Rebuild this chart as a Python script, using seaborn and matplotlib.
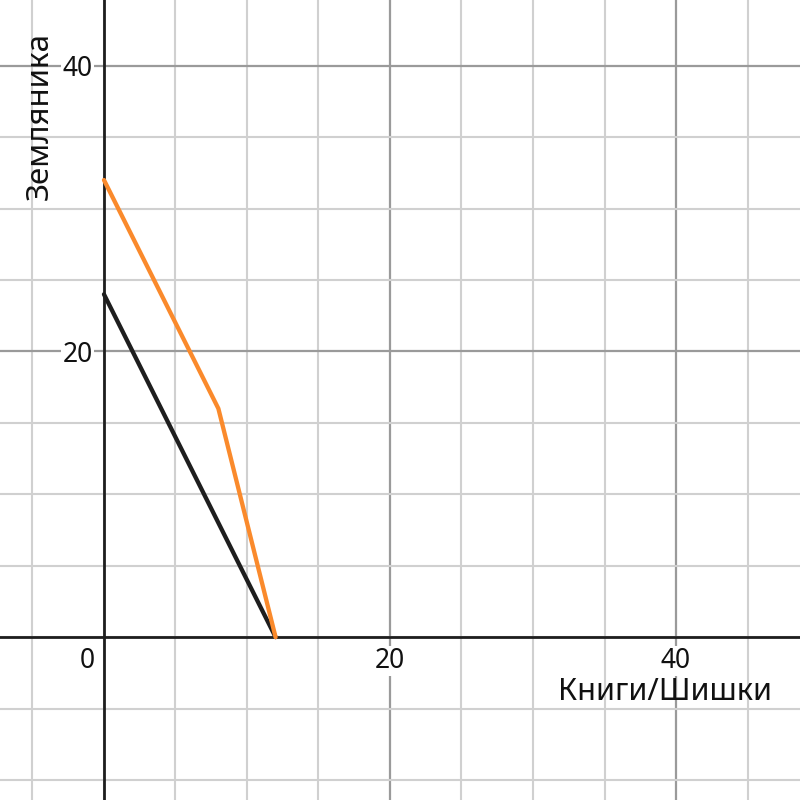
import numpy as np
import pandas as pd
import matplotlib.pyplot as plt
import seaborn as sns
from matplotlib.ticker import MultipleLocator

sns.set_style('white')
plt.rcParams['font.family'] = ['Noto Sans', 'DejaVu Sans']
plt.rcParams['text.color'] = '#111111'

# data
black_x = [0, 12]
black_y = [24, 0]
orange_x = [0, 8, 12]
orange_y = [32, 16, 0]
x_ticks = [20, 40]
y_ticks = [20, 40]

fig = plt.figure(figsize=(8, 8), dpi=100)
ax = fig.add_axes([0, 0, 1, 1])

sns.lineplot(x=black_x, y=black_y, sort=False, color='#1e1e1e', lw=3.1, ax=ax)
sns.lineplot(x=orange_x, y=orange_y, sort=False, color='#fa8a2c', lw=3.1, ax=ax)

ax.set_xlim(-7.27, 48.67)
ax.set_ylim(-11.4, 44.6)

# grid
ax.xaxis.set_major_locator(MultipleLocator(20))
ax.yaxis.set_major_locator(MultipleLocator(20))
ax.xaxis.set_minor_locator(MultipleLocator(5))
ax.yaxis.set_minor_locator(MultipleLocator(5))
ax.grid(which='major', color='#9a9a9a', lw=1.6)
ax.grid(which='minor', color='#d0d0d0', lw=1.5)
ax.set_axisbelow(True)

# axes through origin
for side in ['top', 'right']:
    ax.spines[side].set_visible(False)
ax.spines['left'].set_position(('data', 0))
ax.spines['bottom'].set_position(('data', 0))
ax.spines['left'].set_color('#1e1e1e')
ax.spines['bottom'].set_color('#1e1e1e')
ax.spines['left'].set_linewidth(2)
ax.spines['bottom'].set_linewidth(2)
ax.spines['left'].set_zorder(1.5)
ax.spines['bottom'].set_zorder(1.5)

ax.set_xticks(x_ticks)
ax.set_yticks(y_ticks)
ax.tick_params(which='both', length=0, labelcolor='#111111')
ax.tick_params(axis='x', pad=7, labelsize=19)
ax.tick_params(axis='y', pad=8, labelsize=19)
for lab in ax.get_xticklabels() + ax.get_yticklabels():
    lab.set_bbox(dict(facecolor='white', edgecolor='none', pad=1))

ax.annotate('0', xy=(0, 0), xytext=(-12, -7), textcoords='offset points',
            ha='center', va='top', fontsize=19)

ax.set_xlabel('Книги/Шишки', fontsize=22, va='center', ha='center', color='#111111')
ax.set_ylabel('Земляника', fontsize=22.5, va='center', ha='center', color='#111111')
ax.xaxis.set_label_coords(0.831, 0.135)
ax.yaxis.set_label_coords(0.05, 0.855)

fig.savefig('out.png', dpi=100)
